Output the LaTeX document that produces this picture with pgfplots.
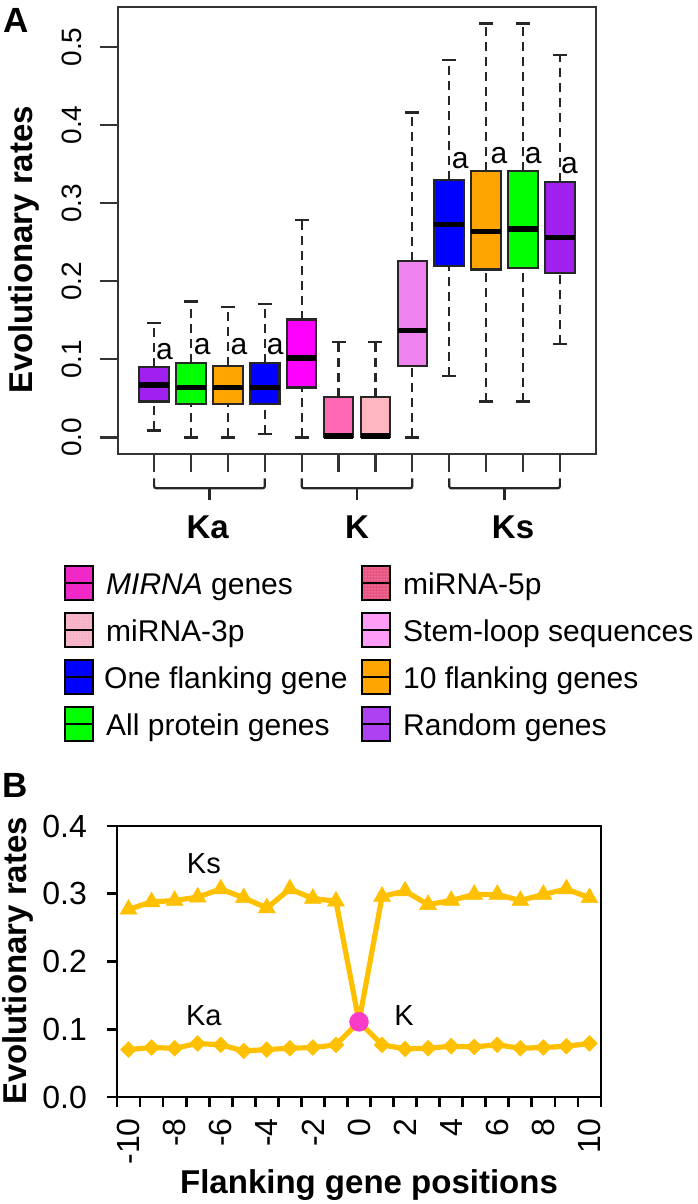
\documentclass[border=0pt]{standalone}
\usepackage{pgfplots}
\pgfplotsset{compat=1.18}
\usetikzlibrary{patterns}
\usepackage{fontspec}
\setmainfont{Liberation Sans}
\definecolor{rpurple}{HTML}{A020F0}
\definecolor{rgreen}{HTML}{00FF00}
\definecolor{rorange}{HTML}{FFA500}
\definecolor{rblue}{HTML}{0000FF}
\definecolor{rmagenta}{HTML}{FF00FF}
\definecolor{rhotpink}{HTML}{FF69B4}
\definecolor{rpink}{HTML}{FFB6C1}
\definecolor{rviolet}{HTML}{EE82EE}
\definecolor{kgold}{RGB}{255,192,0}
\definecolor{kpink}{RGB}{248,60,200}
\definecolor{lgmirna}{RGB}{240,40,200}
\definecolor{lg5p}{RGB}{232,84,130}
\definecolor{lg3p}{RGB}{246,178,196}
\definecolor{lgstem}{RGB}{255,156,245}
\newcommand{\fs}[1]{\fontsize{#1}{#1}\selectfont}
% box: position, lower whisker, q1, median, q3, upper whisker, colour
\newcommand{\bx}[7]{%
  \pgfmathsetmacro\boxl{#1-0.4}\pgfmathsetmacro\boxr{#1+0.4}%
  \pgfmathsetmacro\capl{#1-0.19}\pgfmathsetmacro\capr{#1+0.19}%
  \edef\tmpbox{%
    \noexpand\addplot[dash pattern=on 9pt off 6pt, line width=2.2pt, black!85] coordinates {(#1,#2) (#1,#3)};
    \noexpand\addplot[dash pattern=on 9pt off 6pt, line width=2.2pt, black!85] coordinates {(#1,#5) (#1,#6)};
    \noexpand\addplot[line width=2.2pt, black!85] coordinates {(\capl,#2) (\capr,#2)};
    \noexpand\addplot[line width=2.2pt, black!85] coordinates {(\capl,#6) (\capr,#6)};
    \noexpand\addplot[fill=#7, draw=black!85, line width=2.1pt] coordinates {(\boxl,#3) (\boxr,#3) (\boxr,#5) (\boxl,#5)} --cycle;
    \noexpand\addplot[line width=5.5pt, black] coordinates {(\boxl,#4) (\boxr,#4)};
  }\tmpbox}
\newcommand{\legkey}[3]{%
  \draw[line width=2.4pt, #3] (#1,{#2+17}) rectangle ({#1+28},{#2-17});
  \draw[line width=2.2pt] (#1,#2) -- ({#1+28},#2);}
\newcommand{\brk}[3]{%
  \draw[line width=2.2pt, black!85, rounded corners=2pt]
    (axis cs:#1,-0.0523) -- (axis cs:#1,-0.065) -- (axis cs:#2,-0.065) -- (axis cs:#2,-0.0523);
  \draw[line width=2.2pt, black!85] (axis cs:#3,-0.065) -- (axis cs:#3,-0.0804);}
\begin{document}
\begin{tikzpicture}[x=1pt,y=1pt]
\useasboundingbox (0,0) rectangle (698,-1204);
% ---------------- Panel A ----------------
\begin{axis}[
  at={(118pt,-454pt)}, anchor=south west,
  scale only axis, width=478pt, height=447pt,
  xmin=0.02, xmax=12.98, ymin=-0.0212, ymax=0.5512,
  clip=false,
  axis line style={line width=2.2pt, draw=black!80},
  xtick={1,...,12}, xticklabels={},
  ytick={0,0.1,0.2,0.3,0.4,0.5}, yticklabels={0.0,0.1,0.2,0.3,0.4,0.5},
  xtick pos=bottom, ytick pos=left,
  tick align=outside, major tick length=18pt,
  tick style={line width=2.2pt, draw=black!80},
  yticklabel style={rotate=90, anchor=south, inner sep=0pt, font=\fs{28}},
  yticklabel shift=18pt,
]
\bx{1}{0.009}{0.046}{0.067}{0.090}{0.147}{rpurple}
\bx{2}{0.000}{0.043}{0.064}{0.095}{0.174}{rgreen}
\bx{3}{0.000}{0.043}{0.064}{0.092}{0.167}{rorange}
\bx{4}{0.004}{0.043}{0.064}{0.095}{0.171}{rblue}
\bx{5}{0.000}{0.064}{0.102}{0.151}{0.278}{rmagenta}
\bx{6}{0.000}{0.000}{0.002}{0.052}{0.122}{rhotpink}
\bx{7}{0.000}{0.000}{0.002}{0.052}{0.122}{rpink}
\bx{8}{0.000}{0.091}{0.137}{0.226}{0.416}{rviolet}
\bx{9}{0.079}{0.220}{0.273}{0.330}{0.483}{rblue}
\bx{10}{0.046}{0.215}{0.264}{0.341}{0.530}{rorange}
\bx{11}{0.046}{0.217}{0.267}{0.341}{0.530}{rgreen}
\bx{12}{0.120}{0.211}{0.256}{0.327}{0.490}{rpurple}
% significance letters
\node[font=\fs{30}] at (axis cs:1.28,0.110) {a};
\node[font=\fs{30}] at (axis cs:2.30,0.117) {a};
\node[font=\fs{30}] at (axis cs:3.30,0.117) {a};
\node[font=\fs{30}] at (axis cs:4.28,0.117) {a};
\node[font=\fs{30}] at (axis cs:9.30,0.355) {a};
\node[font=\fs{30}] at (axis cs:10.35,0.361) {a};
\node[font=\fs{30}] at (axis cs:11.28,0.361) {a};
\node[font=\fs{30}] at (axis cs:12.26,0.348) {a};
% brackets
\brk{1}{4}{2.5}
\brk{5}{8}{6.5}
\brk{9}{12}{10.5}
\node[font=\bfseries\fs{33}, anchor=base] at (axis cs:2.45,-0.1288) {Ka};
\node[font=\bfseries\fs{33}, anchor=base] at (axis cs:6.5,-0.1288) {K};
\node[font=\bfseries\fs{33}, anchor=base] at (axis cs:10.73,-0.1288) {Ks};
\end{axis}
\node[font=\bfseries\fs{35}, anchor=base] at (16,-33) {A};
\node[font=\bfseries\fs{33}, rotate=90, anchor=base] at (32,-250) {Evolutionary rates};
% ---------------- Legend ----------------
\legkey{65}{-583}{fill=lgmirna}
\legkey{362}{-583}{preaction={fill=lg5p}, pattern=dots, pattern color=white!75!lg5p}
\legkey{65}{-630}{preaction={fill=lg3p}, pattern=dots, pattern color=white!70!lg3p}
\legkey{362}{-630}{fill=lgstem}
\legkey{65}{-677}{fill=rblue}
\legkey{362}{-677}{fill=rorange}
\legkey{65}{-724}{fill=rgreen}
\legkey{362}{-724}{fill=rpurple!85!white}
\node[anchor=base west, inner sep=0pt, font=\fs{30}] at (106,-594) {\textit{MIRNA} genes};
\node[anchor=base west, inner sep=0pt, font=\fs{30}] at (403,-594) {miRNA-5p};
\node[anchor=base west, inner sep=0pt, font=\fs{30}] at (106,-641) {miRNA-3p};
\node[anchor=base west, inner sep=0pt, font=\fs{30}] at (403,-641) {Stem-loop sequences};
\node[anchor=base west, inner sep=0pt, font=\fs{30}] at (104,-688) {One flanking gene};
\node[anchor=base west, inner sep=0pt, font=\fs{30}] at (403,-688) {10 flanking genes};
\node[anchor=base west, inner sep=0pt, font=\fs{30}] at (106,-735) {All protein genes};
\node[anchor=base west, inner sep=0pt, font=\fs{30}] at (403,-735) {Random genes};
% ---------------- Panel B ----------------
\begin{axis}[
  at={(117pt,-1097pt)}, anchor=south west,
  scale only axis, width=484pt, height=271pt,
  xmin=-10.5, xmax=10.5, ymin=0, ymax=0.4,
  clip=false,
  axis line style={line width=2.8pt, draw=black},
  xtick={-10,-8,-6,-4,-2,0,2,4,6,8,10},
  xticklabels={-10,-8,-6,-4,-2,0,2,4,6,8,10},
  minor xtick={-10.5,-9.5,-8.5,-7.5,-6.5,-5.5,-4.5,-3.5,-2.5,-1.5,-0.5,0.5,1.5,2.5,3.5,4.5,5.5,6.5,7.5,8.5,9.5,10.5},
  ytick={0,0.1,0.2,0.3,0.4}, yticklabels={0.0,0.1,0.2,0.3,0.4},
  xtick pos=bottom, ytick pos=left,
  tick align=outside, major tick length=10pt, minor tick length=10pt,
  tick style={line width=2.8pt, draw=black},
  major x tick style={draw=none},
  xticklabel style={rotate=90, anchor=east, inner sep=0pt, font=\fs{32}},
  xticklabel shift=11pt,
  yticklabel style={anchor=east, inner sep=0pt, font=\fs{32}},
  yticklabel shift=20pt,
]
\addplot[no marks, color=kgold, line width=5.2pt, line join=round] coordinates {
(-10,0.277) (-9,0.288) (-8,0.290) (-7,0.295) (-6,0.307) (-5,0.294) (-4,0.279)
(-3,0.307) (-2,0.293) (-1,0.289) (0,0.111) (1,0.296) (2,0.304) (3,0.284)
(4,0.290) (5,0.299) (6,0.299) (7,0.290) (8,0.299) (9,0.307) (10,0.294)};
\addplot[only marks, mark=triangle*, mark size=9.8pt, color=kgold, mark options={line width=0.5pt}] coordinates {
(-10,0.277) (-9,0.288) (-8,0.290) (-7,0.295) (-6,0.307) (-5,0.294) (-4,0.279)
(-3,0.307) (-2,0.293) (-1,0.289) (1,0.296) (2,0.304) (3,0.284)
(4,0.290) (5,0.299) (6,0.299) (7,0.290) (8,0.299) (9,0.307) (10,0.294)};
\addplot[no marks, color=kgold, line width=5.2pt, line join=round] coordinates {
(-10,0.070) (-9,0.073) (-8,0.072) (-7,0.079) (-6,0.077) (-5,0.068) (-4,0.070)
(-3,0.072) (-2,0.073) (-1,0.077) (0,0.111) (1,0.077) (2,0.071) (3,0.072)
(4,0.075) (5,0.074) (6,0.077) (7,0.072) (8,0.073) (9,0.075) (10,0.079)};
\addplot[only marks, mark=square*, mark size=5.6pt, color=kgold, mark options={rotate=45, line width=0.5pt}] coordinates {
(-10,0.070) (-9,0.073) (-8,0.072) (-7,0.079) (-6,0.077) (-5,0.068) (-4,0.070)
(-3,0.072) (-2,0.073) (-1,0.077) (1,0.077) (2,0.071) (3,0.072)
(4,0.075) (5,0.074) (6,0.077) (7,0.072) (8,0.073) (9,0.075) (10,0.079)};
\addplot[only marks, mark=*, mark size=9.5pt, color=kpink] coordinates {(0,0.111)};
\node[font=\fs{29}, anchor=base] at (axis cs:-6.73,0.3305) {Ks};
\node[font=\fs{29}, anchor=base] at (axis cs:-6.73,0.1062) {Ka};
\node[font=\fs{29}, anchor=base] at (axis cs:1.95,0.1062) {K};
\end{axis}
\node[font=\bfseries\fs{35}, anchor=base] at (15,-797) {B};
\node[font=\bfseries\fs{33}, rotate=90, anchor=base] at (27,-961) {Evolutionary rates};
\node[font=\bfseries\fs{33}, anchor=base] at (369,-1193) {Flanking gene positions};
\end{tikzpicture}
\end{document}
